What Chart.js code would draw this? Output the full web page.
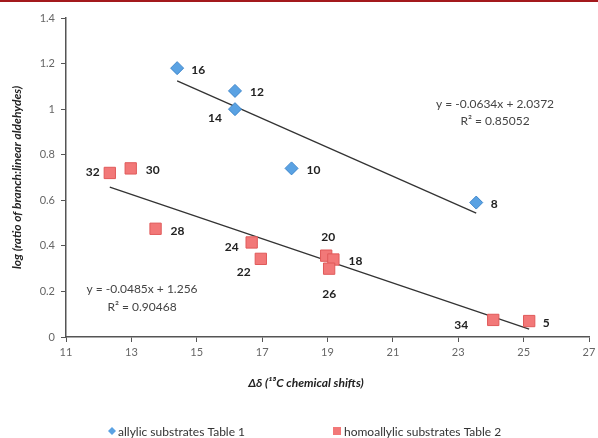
<!DOCTYPE html>
<html>
<head>
<meta charset="utf-8">
<script src="https://cdn.jsdelivr.net/npm/chart.js@4.4.1/dist/chart.umd.min.js"></script>
<style>
  html, body { margin: 0; padding: 0; background: #fff; }
  #wrap { position: relative; width: 598px; height: 438px; }
  #topline { position: absolute; left: 0; top: 0; width: 598px; height: 2px; background: #a3191c; }
</style>
</head>
<body>
<div id="wrap">
  <canvas id="chart" width="598" height="438"></canvas>
  <div id="topline"></div>
</div>
<script>
// values
const allylicIds = ['16', '12', '14', '10', '8'];
const allylicX = [14.40, 16.17, 16.17, 17.90, 23.55];
const allylicY = [1.18, 1.08, 1.00, 0.74, 0.59];

const homoIds = ['32', '30', '28', '24', '22', '20', '18', '26', '34', '5'];
const homoX = [12.34, 12.98, 13.74, 16.68, 16.96, 18.96, 19.18, 19.05, 24.07, 25.17];
const homoY = [0.72, 0.74, 0.475, 0.415, 0.343, 0.357, 0.34, 0.30, 0.075, 0.07];

// trend line end points
const allylicFitX = [14.40, 23.55];
const allylicFitY = [1.124, 0.544];
const homoFitX = [12.34, 25.17];
const homoFitY = [0.658, 0.035];

const allylicEq = ['y = -0.0634x + 2.0372', 'R² = 0.85052'];
const homoEq = ['y = -0.0485x + 1.256', 'R² = 0.90468'];

const xTicks = [11, 13, 15, 17, 19, 21, 23, 25, 27];
const yTicks = [0, 0.2, 0.4, 0.6, 0.8, 1, 1.2, 1.4];

const toPoints = (xs, ys) => xs.map((x, i) => ({ x: x, y: ys[i] }));

Chart.defaults.font.family = "Lato, 'Open Sans', sans-serif";

// label offsets in pixels from each marker
const labelOffsets = {
    allylic: [[21, 2], [22, 1], [-20, 9], [22, 2], [18, 2]],
    homo: [[-17, -1], [22, 2], [22, 2], [-20, 5], [-17, 13], [2, -19], [22, 2], [0, 25], [-32, 5], [17, 2]]
};

const annotations = {
    id: 'annotations',
    afterDatasetsDraw(chart) {
        const ctx = chart.ctx;
        const xs = chart.scales.x;
        const ys = chart.scales.y;
        ctx.save();
        ctx.textAlign = 'center';
        ctx.textBaseline = 'middle';

        // point labels
        ctx.fillStyle = '#222';
        ctx.font = 'bold 12px Lato, sans-serif';
        allylicIds.forEach((id, i) => {
            const o = labelOffsets.allylic[i];
            ctx.fillText(id, xs.getPixelForValue(allylicX[i]) + o[0], ys.getPixelForValue(allylicY[i]) + o[1]);
        });
        homoIds.forEach((id, i) => {
            const o = labelOffsets.homo[i];
            ctx.fillText(id, xs.getPixelForValue(homoX[i]) + o[0], ys.getPixelForValue(homoY[i]) + o[1]);
        });

        // regression equations
        ctx.fillStyle = '#444';
        ctx.font = '12px Lato, sans-serif';
        ctx.fillText(allylicEq[0], 495, 104);
        ctx.fillText(allylicEq[1], 495, 121);
        ctx.fillText(homoEq[0], 142, 289);
        ctx.fillText(homoEq[1], 142, 307);

        // x axis title
        ctx.fillStyle = '#222';
        ctx.font = 'italic bold 12px Lato, sans-serif';
        ctx.fillText('Δδ (¹³C chemical shifts)', 306, 383);

        // legend
        ctx.textAlign = 'left';
        ctx.font = '12px Lato, sans-serif';
        ctx.fillStyle = '#333';
        ctx.fillText(chart.data.datasets[0].label, 118, 432);
        ctx.fillText(chart.data.datasets[1].label, 344, 432);
        ctx.fillStyle = chart.data.datasets[0].backgroundColor;
        ctx.beginPath();
        ctx.moveTo(112, 427); ctx.lineTo(116, 431); ctx.lineTo(112, 435); ctx.lineTo(108, 431);
        ctx.closePath();
        ctx.fill();
        ctx.fillStyle = chart.data.datasets[1].backgroundColor;
        ctx.fillRect(333, 427, 8, 8);
        ctx.restore();
    }
};

new Chart(document.getElementById('chart'), {
    type: 'scatter',
    data: {
        datasets: [{
                label: 'allylic substrates Table 1',
                data: toPoints(allylicX, allylicY),
                pointStyle: 'rectRot',
                pointRadius: 6.5,
                backgroundColor: '#5aa2e3',
                borderColor: '#3e86cb',
                borderWidth: 1
            },
            {
                label: 'homoallylic substrates Table 2',
                data: toPoints(homoX, homoY),
                pointStyle: 'rect',
                pointRadius: 8,
                backgroundColor: '#f27878',
                borderColor: '#e05a5a',
                borderWidth: 1
            },
            {
                type: 'line',
                label: 'allylic fit',
                data: toPoints(allylicFitX, allylicFitY),
                borderColor: '#333',
                borderWidth: 1.3,
                pointRadius: 0,
                fill: false
            },
            {
                type: 'line',
                label: 'homoallylic fit',
                data: toPoints(homoFitX, homoFitY),
                borderColor: '#333',
                borderWidth: 1.3,
                pointRadius: 0,
                fill: false
            }
        ]
    },
    options: {
        responsive: false,
        animation: false,
        layout: { padding: { top: 18, right: 0, left: 0, bottom: 0 } },
        plugins: {
            legend: { display: false },
            tooltip: { enabled: false }
        },
        scales: {
            x: {
                type: 'linear',
                min: 11,
                max: 27,
                afterBuildTicks: (scale) => { scale.ticks = xTicks.map(v => ({ value: v })); },
                afterFit: (scale) => { scale.height = 101; scale.paddingRight = 6; },
                grid: { drawOnChartArea: false, tickLength: 5, color: '#555' },
                border: { color: '#555', width: 1.5 },
                ticks: { color: '#666', font: { size: 11 }, padding: 4 }
            },
            y: {
                min: 0,
                max: 1.4,
                afterBuildTicks: (scale) => { scale.ticks = yTicks.map(v => ({ value: v })); },
                afterFit: (scale) => { scale.width = 66; },
                grid: { drawOnChartArea: false, tickLength: 5, color: '#555' },
                border: { color: '#555', width: 1.5 },
                ticks: { color: '#666', font: { size: 11 }, padding: 6, callback: (v) => String(v) },
                title: {
                    display: true,
                    text: 'log (ratio of branch:linear aldehydes)',
                    color: '#222',
                    font: { size: 12, weight: 'bold', style: 'italic' },
                    padding: { top: 10, bottom: 0 }
                }
            }
        }
    },
    plugins: [annotations]
});
</script>
</body>
</html>
